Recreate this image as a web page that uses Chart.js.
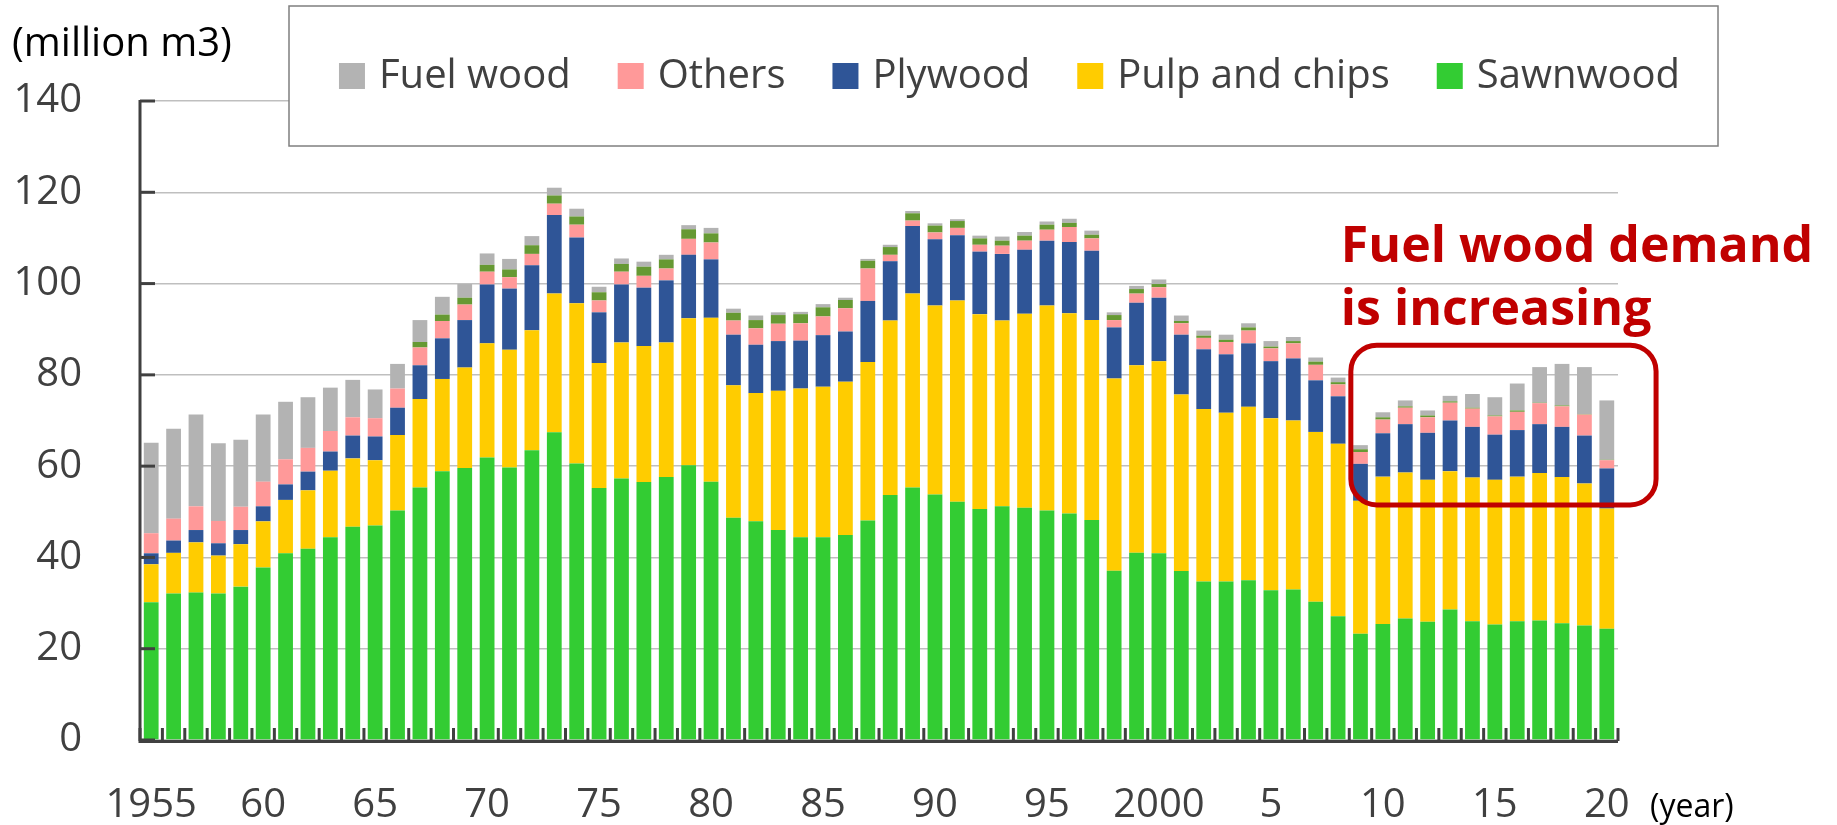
<!DOCTYPE html>
<html>
<head>
<meta charset="utf-8">
<script src="https://cdn.jsdelivr.net/npm/chart.js@4.4.1/dist/chart.umd.min.js"></script>
<style>
  html, body { margin: 0; padding: 0; background: #ffffff; }
  #wrap { position: relative; width: 1837px; height: 825px; }
</style>
</head>
<body>
<div id="wrap"><canvas id="c" width="1837" height="825"></canvas></div>
<script>
// ---- Data (million m3) ----
const years = ['1955','1956','1957','1958','1959','1960','1961','1962','1963','1964',
  '1965','1966','1967','1968','1969','1970','1971','1972','1973','1974',
  '1975','1976','1977','1978','1979','1980','1981','1982','1983','1984',
  '1985','1986','1987','1988','1989','1990','1991','1992','1993','1994',
  '1995','1996','1997','1998','1999','2000','2001','2002','2003','2004',
  '2005','2006','2007','2008','2009','2010','2011','2012','2013','2014',
  '2015','2016','2017','2018','2019','2020'];

const xTickLabels = ['1955','60','65','70','75','80','85','90','95','2000','5','10','15','20'];
const yTickValues = [0, 20, 40, 60, 80, 100, 120, 140];

const sawnwood = [30.2,32.1,32.3,32.1,33.6,37.8,40.9,41.9,44.4,46.7,
  47.0,50.3,55.3,58.9,59.6,61.9,59.7,63.5,67.4,60.6,
  55.2,57.3,56.5,57.6,60.2,56.6,48.7,47.9,46.0,44.4,
  44.4,44.9,48.1,53.7,55.3,53.8,52.2,50.6,51.2,50.9,
  50.3,49.6,48.2,37.1,41.0,40.9,37.0,34.7,34.7,35.0,
  32.8,33.0,30.3,27.1,23.3,25.4,26.6,25.9,28.6,26.0,
  25.3,26.0,26.2,25.6,25.1,24.4];

const pulpChips = [8.3,8.9,11.0,8.3,9.3,10.1,11.7,12.8,14.6,15.0,
  14.3,16.5,19.4,20.2,22.0,25.0,25.8,26.3,30.4,35.1,
  27.4,29.8,29.8,29.5,32.2,35.9,29.0,28.1,30.5,32.6,
  33.0,33.6,34.7,38.2,42.5,41.4,44.1,42.7,40.7,42.5,
  44.9,43.9,43.8,42.1,41.1,42.1,38.7,37.8,37.0,38.0,
  37.7,37.0,37.2,37.8,29.1,32.3,32.0,31.1,30.3,31.5,
  31.7,31.7,32.3,32.0,31.1,26.3];

const plywood = [2.4,2.7,2.7,2.7,3.1,3.3,3.4,4.1,4.2,5.0,
  5.2,6.0,7.4,8.9,10.4,12.9,13.4,14.2,17.2,14.4,
  11.1,12.7,12.8,13.6,13.9,12.8,11.1,10.6,10.9,10.5,
  11.3,11.0,13.4,13.0,14.8,14.5,14.3,13.7,14.6,14.0,
  14.2,15.6,15.2,11.2,13.7,13.9,13.1,13.1,12.8,13.9,
  12.5,13.6,11.3,10.4,8.1,9.5,10.6,10.3,11.1,11.1,
  9.9,10.2,10.7,11.0,10.5,8.8];

const others = [4.4,4.8,5.2,4.9,5.1,5.4,5.5,5.2,4.5,4.0,
  4.0,4.2,3.9,3.8,3.4,2.8,2.5,2.5,2.5,2.8,
  2.6,2.8,2.6,2.6,3.5,3.7,3.1,3.6,3.8,3.8,
  4.1,5.1,7.1,1.4,1.2,1.5,1.6,1.5,1.8,2.0,
  2.4,3.3,2.7,1.6,2.0,2.3,2.5,2.5,2.7,2.8,
  2.8,3.3,3.4,2.6,2.6,3.0,3.6,3.4,3.9,4.0,
  4.0,4.0,4.6,4.5,4.6,1.8];

// small dark-green segment shown above "Others" (not in the legend)
const minorUse = [0,0,0,0,0,0,0,0,0,0,
  0,0,1.2,1.4,1.5,1.5,1.7,1.9,1.8,1.8,
  1.8,1.7,2.0,2.0,2.1,2.0,1.7,1.8,1.9,2.0,
  2.0,1.8,1.7,1.7,1.6,1.5,1.5,1.4,1.1,1.1,
  1.1,0.9,0.8,1.1,1.0,0.7,0.5,0.5,0.5,0.7,
  0.4,0.5,0.7,0.5,0.6,0.5,0.3,0.4,0.3,0.2,
  0.2,0.3,0.1,0.2,0.1,0.1];

const fuelWood = [19.8,19.7,20.1,17.0,14.7,14.7,12.6,11.1,9.5,8.2,
  6.3,5.4,4.8,3.9,3.0,2.5,2.3,2.0,1.7,1.7,
  1.2,1.2,1.1,1.0,0.9,1.2,0.9,1.0,0.6,0.5,
  0.7,0.5,0.4,0.5,0.5,0.5,0.4,0.6,0.9,0.8,
  0.7,0.9,0.9,0.6,0.7,1.0,1.2,1.1,1.1,0.9,
  1.2,0.9,0.9,1.0,0.9,1.1,1.3,1.1,1.2,3.0,
  4.0,5.9,7.8,9.1,10.3,13.0];

const legendOrder = ['Fuel wood','Others','Plywood','Pulp and chips','Sawnwood'];

// ---- Styles ----
const FONT = '"Open Sans", "Noto Sans", sans-serif';
const TEXT = '#404040';
const AXIS = '#404040';
const COLORS = {
  'Sawnwood': '#33cc33',
  'Pulp and chips': '#ffcc00',
  'Plywood': '#2f5597',
  'Others': '#ff9999',
  'Minor': '#669933',
  'Fuel wood': '#b3b3b3'
};

function ds(label, data, color) {
  return {
    label: label, data: data, backgroundColor: color,
    borderWidth: 0, barPercentage: 0.66, categoryPercentage: 1.0,
    stack: 's'
  };
}

const customDraw = {
  id: 'customDraw',
  afterDatasetsDraw(chart) {
    const ctx = chart.ctx;
    const xs = chart.scales.x, ys = chart.scales.y;
    const ca = chart.chartArea;
    ctx.save();
    ctx.strokeStyle = AXIS;
    ctx.lineWidth = 3;
    ctx.beginPath();
    ctx.moveTo(ca.left, ys.getPixelForValue(140) - 1);
    ctx.lineTo(ca.left, ca.bottom + 1.5);
    ctx.lineTo(ca.right, ca.bottom + 1.5);
    ctx.stroke();
    yTickValues.forEach(v => {
      const y = ys.getPixelForValue(v);
      ctx.beginPath();
      ctx.moveTo(ca.left, y);
      ctx.lineTo(ca.left + 15, y);
      ctx.stroke();
    });
    const cat = xs.getPixelForValue(1) - xs.getPixelForValue(0);
    for (let i = 0; i <= years.length; i++) {
      const x = xs.getPixelForValue(0) - cat / 2 + i * cat;
      ctx.beginPath();
      ctx.moveTo(x, ca.bottom + 1);
      ctx.lineTo(x, ca.bottom - 12);
      ctx.stroke();
    }
    ctx.restore();
  },
  afterDraw(chart) {
    const ctx = chart.ctx;
    const xs = chart.scales.x, ys = chart.scales.y;
    ctx.save();
    // Legend box
    const bx = 289, by = 6, bw = 1429, bh = 140;
    ctx.fillStyle = '#ffffff';
    ctx.fillRect(bx, by, bw, bh);
    ctx.strokeStyle = '#7f7f7f';
    ctx.lineWidth = 1.5;
    ctx.strokeRect(bx, by, bw, bh);
    ctx.font = '40px ' + FONT;
    ctx.textBaseline = 'middle';
    const sq = 26, gapIn = 14, gapOut = 47;
    let total = 0;
    legendOrder.forEach((l, i) => {
      total += sq + gapIn + ctx.measureText(l).width + (i < legendOrder.length - 1 ? gapOut : 0);
    });
    let lx = bx + (bw - total) / 2 + 6;
    const ly = 76;
    legendOrder.forEach(l => {
      ctx.fillStyle = COLORS[l];
      ctx.fillRect(lx, ly - sq / 2, sq, sq);
      lx += sq + gapIn;
      ctx.fillStyle = TEXT;
      ctx.textAlign = 'left';
      ctx.fillText(l, lx, ly + 1);
      lx += ctx.measureText(l).width + gapOut;
    });
    // Unit label
    ctx.fillStyle = '#000000';
    ctx.font = '40px ' + FONT;
    ctx.textAlign = 'left';
    ctx.textBaseline = 'middle';
    ctx.fillText('(million m3)', 12, 45);
    // (year)
    ctx.font = '32px ' + FONT;
    ctx.fillText('(year)', 1650, 808);

    // Annotation box around 2009-2020
    const cat = xs.getPixelForValue(1) - xs.getPixelForValue(0);
    const left = xs.getPixelForValue(years.indexOf('2009')) - 0.43 * cat;
    const right = xs.getPixelForValue(years.indexOf('2020')) + 2.2 * cat;
    const top = ys.getPixelForValue(86.5);
    const bottom = ys.getPixelForValue(51.5);
    ctx.strokeStyle = '#c00000';
    ctx.lineWidth = 5;
    ctx.beginPath();
    ctx.roundRect(left, top, right - left, bottom - top, 26);
    ctx.stroke();
    ctx.fillStyle = '#c00000';
    ctx.font = 'bold 50px ' + FONT;
    ctx.textAlign = 'left';
    ctx.textBaseline = 'alphabetic';
    ctx.fillText('Fuel wood demand', left - 10, top - 83);
    ctx.fillText('is increasing', left - 10, top - 20);
    ctx.restore();
  }
};

const chart = new Chart(document.getElementById('c'), {
  type: 'bar',
  data: {
    labels: years,
    datasets: [
      ds('Sawnwood', sawnwood, COLORS['Sawnwood']),
      ds('Pulp and chips', pulpChips, COLORS['Pulp and chips']),
      ds('Plywood', plywood, COLORS['Plywood']),
      ds('Others', others, COLORS['Others']),
      ds('Minor uses', minorUse, COLORS['Minor']),
      ds('Fuel wood', fuelWood, COLORS['Fuel wood'])
    ]
  },
  options: {
    responsive: false,
    devicePixelRatio: 1,
    animation: false,
    layout: { padding: { top: 101, right: 219, bottom: 0, left: 0 } },
    plugins: { legend: { display: false }, tooltip: { enabled: false } },
    scales: {
      x: {
        stacked: true,
        offset: true,
        grid: { display: false, drawTicks: false },
        border: { display: false },
        ticks: {
          autoSkip: false, maxRotation: 0, minRotation: 0,
          padding: 42,
          color: TEXT,
          font: { family: FONT, size: 40 },
          callback: function(v, i) { return (i % 5 === 0) ? xTickLabels[i / 5] : ''; }
        },
        afterFit(scale) { scale.height = 85; }
      },
      y: {
        stacked: true,
        min: 0, max: 140,
        grid: { color: '#bfbfbf', lineWidth: 1.5, drawTicks: false },
        border: { display: false },
        ticks: {
          stepSize: 20, padding: 58, color: TEXT,
          font: { family: FONT, size: 40 }
        },
        afterFit(scale) { scale.width = 140; }
      }
    }
  },
  plugins: [customDraw]
});
</script>
</body>
</html>
